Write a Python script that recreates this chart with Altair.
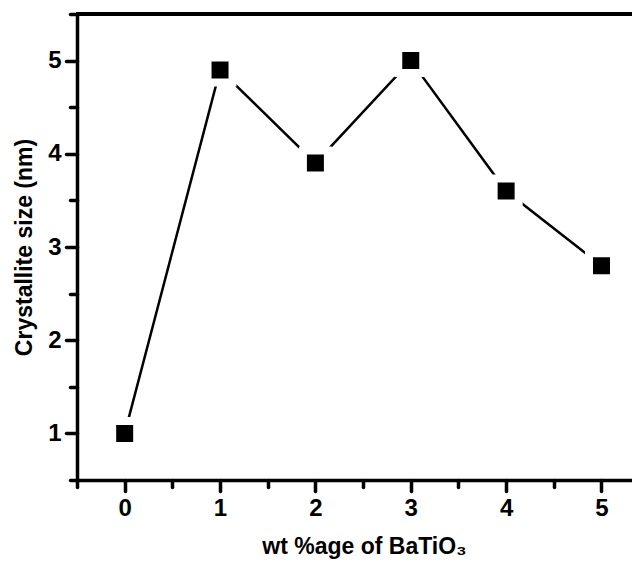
import altair as alt
import pandas as pd

wt = [0, 1, 2, 3, 4, 5]
size_nm = [1.0, 4.9, 3.9, 5.0, 3.6, 2.8]
x_ticks = [-0.5, 0, 0.5, 1, 1.5, 2, 2.5, 3, 3.5, 4, 4.5, 5]
y_ticks = [0.5, 1, 1.5, 2, 2.5, 3, 3.5, 4, 4.5, 5, 5.5]

df = pd.DataFrame({"wt": wt, "size": size_nm})

FONT = "Liberation Sans"
major = "datum.value % 1 === 0"
lab = "datum.value % 1 === 0 ? format(datum.value, 'd') : ''"
W, H = 555, 466

x_scale = alt.Scale(domain=[-0.5, 5.32], nice=False, zero=False)
y_scale = alt.Scale(domain=[0.5, 5.5], nice=False, zero=False)

x_axis = alt.Axis(
    title="wt %age of BaTiO₃", values=x_ticks, labelExpr=lab,
    tickSize={"condition": {"test": major, "value": 11}, "value": 7},
    grid=False, domainWidth=3.5, domainColor="black", tickColor="black",
    tickWidth=3.5, tickCap="round", labelPadding=5, titlePadding=15,
    labelFont=FONT, labelFontSize=24, labelFontWeight="bold", labelColor="black",
    titleFont=FONT, titleFontSize=23, titleFontWeight="bold", titleColor="black",
    titleX=287, titleAnchor="middle", labelOverlap=False,
)
y_axis = alt.Axis(
    title="Crystallite size (nm)", values=y_ticks, labelExpr=lab,
    tickSize={"condition": {"test": major, "value": 11}, "value": 7},
    grid=False, domainWidth=3.5, domainColor="black", tickColor="black",
    tickWidth=3.5, tickCap="round", labelPadding=5, titlePadding=11,
    labelFont=FONT, labelFontSize=24, labelFontWeight="bold", labelColor="black",
    titleFont=FONT, titleFontSize=23, titleFontWeight="bold", titleColor="black",
    labelOverlap=False,
)

base = alt.Chart(df)

line = base.mark_line(color="black", strokeWidth=2.5).encode(
    x=alt.X("wt:Q", scale=x_scale, axis=x_axis),
    y=alt.Y("size:Q", scale=y_scale, axis=y_axis),
)

pts = base.mark_point(shape="square", filled=True, fill="black", stroke="white",
                      strokeWidth=8, size=625, opacity=1).encode(
    x=alt.X("wt:Q", scale=x_scale),
    y=alt.Y("size:Q", scale=y_scale),
)

top = base.mark_rule(color="black", strokeWidth=3.5).encode(
    x=alt.value(-1), x2=alt.value(W), y=alt.value(0)
)

chart = alt.layer(line, pts, top).properties(
    width=W, height=H,
    autosize=alt.AutoSizeParams(type="none"),
    padding={"left": 69, "top": 6, "right": 0, "bottom": 82},
).configure_view(stroke=None).configure(background="white")

chart.save("out.html", embed_options={"renderer": "svg", "actions": False})
